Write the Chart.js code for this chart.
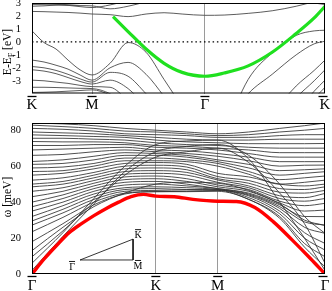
<!DOCTYPE html>
<html>
<head>
<meta charset="utf-8">
<script src="https://cdn.jsdelivr.net/npm/chart.js@4.4.1/dist/chart.umd.min.js"></script>
<style>
  html, body { margin: 0; padding: 0; background: #fff; }
  #wrap { position: relative; width: 332px; height: 291px; }
  canvas { position: absolute; left: 0; }
</style>
</head>
<body>
<div id="wrap">
  <canvas id="bandChart" width="332" height="114" style="top:0"></canvas>
  <canvas id="phononChart" width="332" height="177" style="top:114px"></canvas>
</div>
<script>
const n = null;

// ---- top panel: electron bands, E - E_F [eV] along K-M-G-K ----
const bandTicks = [0, 0.5, 1.44, 2.44];
const bandTickLabels = ['K', 'M', '\u0393', 'K'];
const energyTicks = [-3, -2, -1, 0, 1, 2, 3];
const bandX = [0, 0.1, 0.2, 0.3, 0.4, 0.5, 0.65, 0.8, 0.95, 1.1, 1.25, 1.44, 1.6, 1.8, 2.0, 2.2, 2.35, 2.44];
const grayBands = [
  [3.02, 2.97, 2.9, 2.82, 2.72, 2.65, 2.85, 3.2, 3.6, n, n, n, n, n, n, n, n, n],
  [2.88, 2.87, 2.85, 2.82, 2.8, 2.78, 2.55, 2.75, 3.1, 3.5, n, n, n, n, n, n, n, n],
  [2.75, 2.78, 2.84, 2.9, 2.96, 3.0, 3.2, 3.5, n, n, n, n, n, n, n, n, n, n],
  [2.35, 2.33, 2.3, 2.27, 2.22, 2.15, 2.1, 1.95, 2.15, 2.25, 2.15, 2.05, 2.07, 2.2, 2.4, 2.75, 3.1, 3.3],
  [n, n, n, n, n, n, n, n, n, n, n, n, n, n, 3.6, 3.25, 3.0, 2.88],
  [0.85, -0.05, -0.55, -1.4, -2.15, -2.55, -1.65, -0.05, -0.8, -2.9, -5, n, n, n, n, n, n, n],
  [-1.4, -1.55, -1.8, -2.1, -2.55, -2.95, -2.0, -1.58, -2.5, -4.2, -6, n, n, n, n, n, n, n],
  [-1.9, -2.0, -2.2, -2.5, -2.85, -3.1, -2.35, -2.65, -4.0, -5.5, n, n, n, n, n, n, n, n],
  [-2.15, -2.25, -2.45, -2.75, -3.05, -3.25, -2.95, -3.6, -5, n, n, n, n, n, n, n, n, n],
  [-2.95, -3.0, -3.1, -3.2, -3.35, -3.45, -3.5, -4.5, n, n, n, n, n, n, n, n, n, n],
  [-3.5, -3.5, -3.52, -3.55, -3.58, -3.6, -4.0, -5, n, n, n, n, n, n, n, n, n, n],
  [-3.9, -3.88, -3.85, -3.8, -3.75, -3.7, -4.1, -5, n, n, n, n, n, n, n, n, n, n],
  [n, n, n, n, n, n, n, n, n, n, n, n, -7, -2.9, -0.85, 0.5, 0.85, 0.9],
  [n, n, n, n, n, n, n, n, n, n, n, n, -6.5, -4.0, -2.5, -1.0, -0.15, 0.05],
  [n, n, n, n, n, n, n, n, n, n, n, n, n, n, -5.5, -3.4, -2.2, -1.4],
  [n, n, n, n, n, n, n, n, n, n, n, n, n, n, -6.5, -4.3, -3.0, -2.15],
  [n, n, n, n, n, n, n, n, n, n, n, n, n, n, n, -5.5, -3.8, -2.95],
  [n, n, n, n, n, n, n, n, n, n, n, n, n, n, n, -6.5, -4.4, -3.5]
];
const surfaceX = [0.675, 0.8, 0.95, 1.1, 1.25, 1.44, 1.6, 1.8, 2.0, 2.2, 2.35, 2.44];
const surfaceE = [1.95, 0.8, -0.55, -1.65, -2.35, -2.65, -2.4, -1.85, -0.8, 0.65, 1.85, 2.75];
const fermiX = [0, 2.44];
const fermiE = [0, 0];

// ---- bottom panel: phonons, omega [meV] along G-K-M-G ----
const phononTicks = [0, 1, 1.5, 2.366];
const phononTickLabels = ['\u0393', 'K', 'M', '\u0393'];
const omegaTicks = [0, 20, 40, 60, 80];
const phononX = [0, 0.25, 0.5, 0.75, 1.0, 1.25, 1.5, 1.75, 2.0, 2.2, 2.366];
const phononBands = [
  [84, 83.5, 82.5, 81, 80, 79, 78, 79, 81, 82.5, 84],
  [82.8, 82, 81, 79.5, 79, 78, 77, 77.5, 79, 80, 81],
  [81, 80.5, 79.5, 78, 77.5, 77, 76, 76, 77, 77.5, 77.5],
  [79, 78.5, 78, 77, 76, 75, 74.5, 74.5, 75, 75, 75],
  [77.4, 77, 76.5, 76, 74.5, 73.5, 73, 72.5, 72.5, 72.5, 72.6],
  [75.5, 75.5, 75, 74.5, 73, 72, 71.5, 70.5, 70, 70, 70],
  [73.7, 73.5, 73.5, 73, 71.5, 71, 70, 69, 67.5, 67.5, 67.5],
  [71.5, 71.5, 72, 72, 70.5, 70, 69, 67, 65, 65, 65],
  [69, 69.5, 70, 70.5, 69, 68.5, 67, 65, 62.5, 62.5, 62.5],
  [66, 66.5, 68, 69, 68, 67, 65.5, 63, 60, 60.5, 60.6],
  [62.6, 63.5, 65.5, 67.5, 67, 66, 63.5, 61, 57.5, 58, 58.5],
  [61, 61.5, 63.5, 66, 66, 65, 62.5, 59, 55, 56, 56.9],
  [59, 59.5, 61.5, 64.5, 64.5, 63.5, 61.5, 57, 52.5, 53.5, 54.5],
  [57, 57.5, 60, 63, 63, 62.5, 60, 55.5, 50, 51, 52.2],
  [55, 56, 58.5, 61.5, 62, 61, 56, 54, 50, 49, 50],
  [52.2, 53.5, 56.5, 60, 60.5, 59.5, 54.2, 52, 47.5, 47, 48.5],
  [50, 51.5, 55, 58.5, 59, 58, 53, 50.5, 45.5, 45, 46.5],
  [48.5, 50, 53.5, 57, 57.5, 56.5, 52.3, 49, 43.5, 42.5, 44.8],
  [46, 48, 52, 55.5, 56, 55, 51, 48, 42, 40.5, 42],
  [43, 46, 50.5, 54, 54.5, 53, 49.5, 47, 40.5, 38, 39.3],
  [40, 44, 49, 52.5, 53, 51.5, 48.5, 46, 39.5, 35, 35.6],
  [37.4, 42, 47.5, 51, 51.5, 50, 47.5, 45, 38.5, 32, 31.9],
  [35, 40, 46, 49.5, 50, 49, 47.5, 44.5, 37.5, 29, 27.2],
  [32, 38, 44.5, 48, 48.5, 48, 47, 44, 36.5, 26, 22.6],
  [29.5, 36, 43, 47, 47.5, 47, 46.8, 43.5, 35, 23, 17],
  [27.2, 34, 41.5, 46, 46.5, 46.8, 46.8, 42.5, 33.5, 20, 13.3],
  [23.5, 31.5, 40, 45, 45.8, 46, 46.5, 41.5, 32, 17, 9.6],
  [18, 28, 38.5, 44.5, 45.8, 45.8, 46, 41.5, 31, 15, 4],
  [13, 26, 37.5, 45, 50, 51, 50.5, 46.5, 39, 30, 27],
  [9.6, 24, 40, 55, 65, 68, 70, 62, 45, 28, 6],
  [6, 23, 42, 60, 72, 74, 74.5, 64, 40, 20, 2],
  [2, 21, 39, 57, 68, 71, 72, 66, 50, 32, 22.6]
];
const acousticX = [0, 0.1, 0.2, 0.3, 0.4, 0.5, 0.6, 0.7, 0.8, 0.9, 1.0, 1.15, 1.3, 1.5, 1.65, 1.8, 1.95, 2.1, 2.25, 2.366];
const acousticW = [0, 8.5, 16, 23, 28, 32.5, 36.5, 40, 43, 44.3, 43.3, 43, 41.5, 40.5, 40.3, 37, 29, 19, 8.5, 0];
// inset: irreducible wedge G-K-M
const insetX = [0.388, 0.816, 0.816, 0.388];
const insetY = [7.8, 19.4, 7.8, 7.8];
const insetLabels = ['\u0393', 'K', 'M'];

const serif = "'Liberation Serif', 'DejaVu Serif', serif";

function lineSet(xs, ys, color, width, extra) {
  return Object.assign({
    data: xs.map((x, i) => ({ x: x, y: ys[i] === undefined ? null : ys[i] })),
    borderColor: color,
    borderWidth: width,
    pointRadius: 0,
    fill: false,
    cubicInterpolationMode: 'monotone'
  }, extra || {});
}

function xAxis(ticks, labels, max, height, pad) {
  return {
    type: 'linear', min: 0, max: max,
    afterBuildTicks: s => { s.ticks = ticks.map(v => ({ value: v })); },
    afterFit: s => { s.height = height; s.paddingLeft = 0; s.paddingRight = 0; },
    ticks: {
      color: '#000', padding: pad, maxRotation: 0, autoSkip: false,
      font: { family: serif, size: 15 },
      callback: (v, i) => labels[i]
    },
    grid: {
      drawTicks: false,
      color: ctx => (ctx.index > 0 && ctx.index < ticks.length - 1) ? '#9a9a9a' : 'rgba(0,0,0,0)',
      lineWidth: 1
    },
    border: { display: false }
  };
}

function yAxis(min, max, ticks) {
  return {
    min: min, max: max,
    afterBuildTicks: s => { s.ticks = ticks.map(v => ({ value: v })); },
    afterFit: s => { s.width = 32; s.paddingTop = 0; s.paddingBottom = 0; },
    ticks: { autoSkip: false, color: '#000', padding: 3, font: { family: serif, size: 10.5 } },
    grid: { display: false },
    border: { display: false }
  };
}

// frame and overbars on the point labels
function framePlugin(ticks, barY) {
  return {
    id: 'frame',
    afterDraw(chart) {
      const { ctx, chartArea: a } = chart;
      const xs = chart.scales.x;
      ctx.save();
      ctx.strokeStyle = '#000';
      ctx.lineWidth = 1;
      ctx.strokeRect(a.left + 0.5, a.top + 0.5, a.right - a.left - 1, a.bottom - a.top - 1);
      ctx.lineWidth = 1.3;
      ticks.forEach(v => {
        const px = Math.min(xs.getPixelForValue(v), a.right - 2);
        ctx.beginPath();
        ctx.moveTo(px - 4.5, a.bottom + barY);
        ctx.lineTo(px + 4.5, a.bottom + barY);
        ctx.stroke();
      });
      ctx.restore();
    }
  };
}

// rotated axis title, parts may be subscripted
function drawTitle(ctx, parts, cx, cy, size) {
  ctx.save();
  ctx.translate(cx, cy);
  ctx.rotate(-Math.PI / 2);
  ctx.fillStyle = '#000';
  ctx.textBaseline = 'middle';
  let total = 0;
  parts.forEach(p => {
    ctx.font = (p.sub ? size * 0.7 : size) + 'px ' + serif;
    total += ctx.measureText(p.text).width;
  });
  let x = -total / 2;
  parts.forEach(p => {
    ctx.font = (p.sub ? size * 0.7 : size) + 'px ' + serif;
    ctx.fillText(p.text, x, p.sub ? size * 0.3 : 0);
    x += ctx.measureText(p.text).width;
  });
  ctx.restore();
}

const baseOptions = {
  responsive: false,
  animation: false,
  events: [],
  plugins: { legend: { display: false }, tooltip: { enabled: false } }
};

// top chart
const bandSets = [
  lineSet(surfaceX, surfaceE, '#1fe01f', 3.2),
  lineSet(fermiX, fermiE, '#000', 1.2, { borderDash: [1.5, 2.8] })
].concat(grayBands.map(b => lineSet(bandX, b, '#4a4a4a', 0.9)));

new Chart(document.getElementById('bandChart').getContext('2d'), {
  type: 'line',
  data: { datasets: bandSets },
  options: Object.assign({}, baseOptions, {
    layout: { padding: { left: 0, right: 7, top: 3, bottom: 0 } },
    scales: {
      x: xAxis(bandTicks, bandTickLabels, 2.44, 20.5, 3),
      y: yAxis(-3.98, 3, energyTicks)
    }
  }),
  plugins: [framePlugin(bandTicks, 3), {
    id: 'bandTitle',
    afterDraw(chart) {
      drawTitle(chart.ctx, [{ text: 'E-E' }, { text: 'F', sub: true }, { text: ' [eV]' }], 8, 52, 11.5);
    }
  }]
});

// bottom chart
const phononSets = [
  lineSet(acousticX, acousticW, '#ff0000', 3.4),
  lineSet(insetX, insetY, '#000', 0.8, { cubicInterpolationMode: 'default', tension: 0 })
].concat(phononBands.map(b => lineSet(phononX, b, '#303030', 0.85)));

new Chart(document.getElementById('phononChart').getContext('2d'), {
  type: 'line',
  data: { datasets: phononSets },
  options: Object.assign({}, baseOptions, {
    layout: { padding: { left: 0, right: 7, top: 9, bottom: 0 } },
    scales: {
      x: xAxis(phononTicks, phononTickLabels, 2.366, 17, 3),
      y: yAxis(0, 84, omegaTicks)
    }
  }),
  plugins: [framePlugin(phononTicks, 2.5), {
    id: 'phononExtras',
    afterDraw(chart) {
      const ctx = chart.ctx;
      const xs = chart.scales.x, ys = chart.scales.y;
      drawTitle(ctx, [{ text: '\u03c9 [meV]' }], 8, 83, 11.5);
      ctx.save();
      ctx.fillStyle = '#000';
      ctx.strokeStyle = '#000';
      ctx.lineWidth = 0.9;
      ctx.font = '10px ' + serif;
      ctx.textAlign = 'center';
      ctx.textBaseline = 'middle';
      const offs = [[-8, 6], [5, -5], [5, 5]];
      insetLabels.forEach((t, i) => {
        const px = xs.getPixelForValue(insetX[i]) + offs[i][0];
        const py = ys.getPixelForValue(insetY[i]) + offs[i][1];
        ctx.fillText(t, px, py + 1);
        ctx.beginPath();
        ctx.moveTo(px - 3, py - 4.5);
        ctx.lineTo(px + 3, py - 4.5);
        ctx.stroke();
      });
      ctx.restore();
    }
  }]
});
</script>
</body>
</html>
